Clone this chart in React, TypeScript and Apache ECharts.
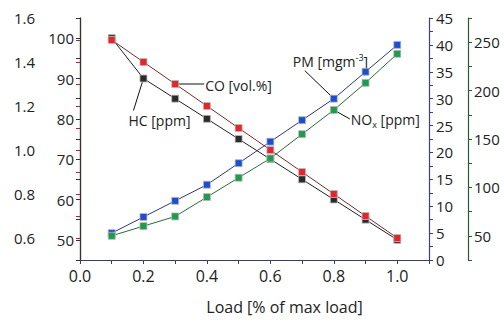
import React, { useEffect, useRef } from "react";
import * as echarts from "echarts";

const loads = [0.1, 0.2, 0.3, 0.4, 0.5, 0.6, 0.7, 0.8, 0.9, 1.0];
const hcPpm = [100, 90, 85, 80, 75, 70, 65, 60, 55, 50];
const coVol = [1.5, 1.4, 1.3, 1.2, 1.1, 1.0, 0.9, 0.8, 0.7, 0.6];
const pmMg = [5, 8, 11, 14, 18, 22, 26, 30, 35, 40];
const noxPpm = [50, 60, 70, 90, 110, 130, 155, 180, 208, 238];

const FONT = "'Open Sans', 'Noto Sans', sans-serif";

export default function App() {
  const ref = useRef<HTMLDivElement>(null);
  useEffect(() => {
    document.body.style.margin = "0";
    const chart = echarts.init(ref.current!, null, { renderer: "svg" });
    const axisCommon = (color: string) => ({
      type: "value" as const,
      splitLine: { show: false },
      axisLine: { show: true, lineStyle: { color, width: 1.2 } },
      axisTick: { show: true, inside: false, length: 4, lineStyle: { color } },
      axisLabel: { color: "#222", fontFamily: FONT, fontSize: 15 },
    });
    const mk = (name: string, ys: number[], yIdx: number, lineColor: string, fill: string) => ({
      name,
      type: "line" as const,
      yAxisIndex: yIdx,
      data: loads.map((x, i) => [x, ys[i]]),
      symbol: "rect",
      symbolSize: 7,
      showSymbol: true,
      lineStyle: { color: lineColor, width: 1 },
      itemStyle: { color: fill, borderColor: "#bbbbbb", borderWidth: 0.8 },
    });
    chart.setOption({
      animation: false,
      grid: { left: 80, right: 75, top: 18, bottom: 54 },
      xAxis: {
        type: "value",
        min: 0,
        max: 1.1,
        interval: 0.1,
        splitLine: { show: false },
        axisLine: { lineStyle: { color: "#3a3f55", width: 1.2 } },
        axisTick: { length: 4, lineStyle: { color: "#3a3f55" } },
        axisLabel: {
          color: "#222",
          fontFamily: FONT,
          fontSize: 16,
          margin: 8,
          formatter: (v: number) => {
            const k = Math.round(v * 10);
            return k % 2 === 0 && k <= 10 ? (k / 10).toFixed(1) : "";
          },
        },
        name: "Load [% of max load]",
        nameLocation: "middle",
        nameGap: 39,
        nameTextStyle: { color: "#222", fontFamily: FONT, fontSize: 16, padding: [0, 0, 0, 60] },
      },
      yAxis: [
        {
          ...axisCommon("#8a3434"),
          position: "left",
          offset: 39,
          min: 0.5,
          max: 1.6,
          interval: 0.1,
          axisLabel: {
            color: "#222", fontFamily: FONT, fontSize: 15, margin: 6,
            formatter: (v: number) => (Math.round(v * 10) % 2 === 0 ? v.toFixed(1) : ""),
          },
        },
        {
          ...axisCommon("#333333"),
          position: "left",
          offset: 0,
          min: 45,
          max: 105,
          interval: 5,
          axisLabel: {
            color: "#222", fontFamily: FONT, fontSize: 15, margin: 6,
            formatter: (v: number) => (Math.round(v) % 10 === 0 ? String(v) : ""),
          },
        },
        {
          ...axisCommon("#3a4470"),
          position: "right",
          offset: 0,
          min: 0,
          max: 45,
          interval: 2.5,
          axisLabel: {
            color: "#222", fontFamily: FONT, fontSize: 15, margin: 7,
            formatter: (v: number) => (Math.round(v * 2) % 2 === 0 ? String(v) : ""),
          },
        },
        {
          ...axisCommon("#2a5a32"),
          position: "right",
          offset: 39,
          min: 25,
          max: 275,
          interval: 25,
          axisLabel: {
            color: "#222", fontFamily: FONT, fontSize: 15, margin: 6,
            formatter: (v: number) => (Math.round(v) % 50 === 0 ? String(v) : ""),
          },
        },
      ],
      series: [
        mk("HC [ppm]", hcPpm, 1, "#222222", "#2b2b2b"),
        mk("CO [vol.%]", coVol, 0, "#7a2a2a", "#e4262c"),
        mk("PM [mgm-3]", pmMg, 2, "#2c3a78", "#1b4fcf"),
        mk("NOx [ppm]", noxPpm, 3, "#2a6a3a", "#1f9a4e"),
      ],
    });

    const px = (s: number, i: number, ys: number[]) =>
      chart.convertToPixel({ seriesIndex: s }, [loads[i], ys[i]]) as number[];
    const co = px(1, 2, coVol);
    const hc = px(0, 1, hcPpm);
    const pm = px(2, 7, pmMg);
    const nx = px(3, 7, noxPpm);
    const txt = { fill: "#222", fontFamily: FONT, fontSize: 14, verticalAlign: "middle" as const };
    const ln = { stroke: "#111", lineWidth: 1 };
    chart.setOption({
      graphic: [
        { type: "line", z: 1, shape: { x1: co[0], y1: co[1], x2: co[0] + 29, y2: co[1] }, style: ln },
        { type: "text", style: { ...txt, text: "CO [vol.%]", x: co[0] + 30, y: co[1] + 1 } },
        { type: "line", z: 1, shape: { x1: hc[0], y1: hc[1], x2: hc[0] - 10, y2: hc[1] + 32 }, style: ln },
        { type: "text", style: { ...txt, text: "HC [ppm]", x: hc[0] - 15, y: hc[1] + 42 } },
        { type: "line", z: 1, shape: { x1: pm[0], y1: pm[1], x2: pm[0] - 29, y2: pm[1] - 28 }, style: ln },
        {
          type: "text",
          style: {
            ...txt,
            text: "{a|PM [mgm}{s|-3}{a|]}",
            x: pm[0] - 41,
            y: pm[1] - 37,
            rich: {
              a: { fill: "#222", fontFamily: FONT, fontSize: 14, lineHeight: 18, verticalAlign: "middle" },
              s: { fill: "#222", fontFamily: FONT, fontSize: 9, lineHeight: 9, verticalAlign: "top" },
            },
          },
        },
        { type: "line", z: 1, shape: { x1: nx[0], y1: nx[1], x2: nx[0] + 16, y2: nx[1] + 9 }, style: ln },
        {
          type: "text",
          style: {
            ...txt,
            text: "{a|NO}{s|x}{a| [ppm]}",
            x: nx[0] + 17,
            y: nx[1] + 10,
            rich: {
              a: { fill: "#222", fontFamily: FONT, fontSize: 14, lineHeight: 18, verticalAlign: "middle" },
              s: { fill: "#222", fontFamily: FONT, fontSize: 9, lineHeight: 9, verticalAlign: "bottom" },
            },
          },
        },
      ],
    });
    return () => chart.dispose();
  }, []);
  return <div ref={ref} style={{ width: 504, height: 320 }} />;
}
